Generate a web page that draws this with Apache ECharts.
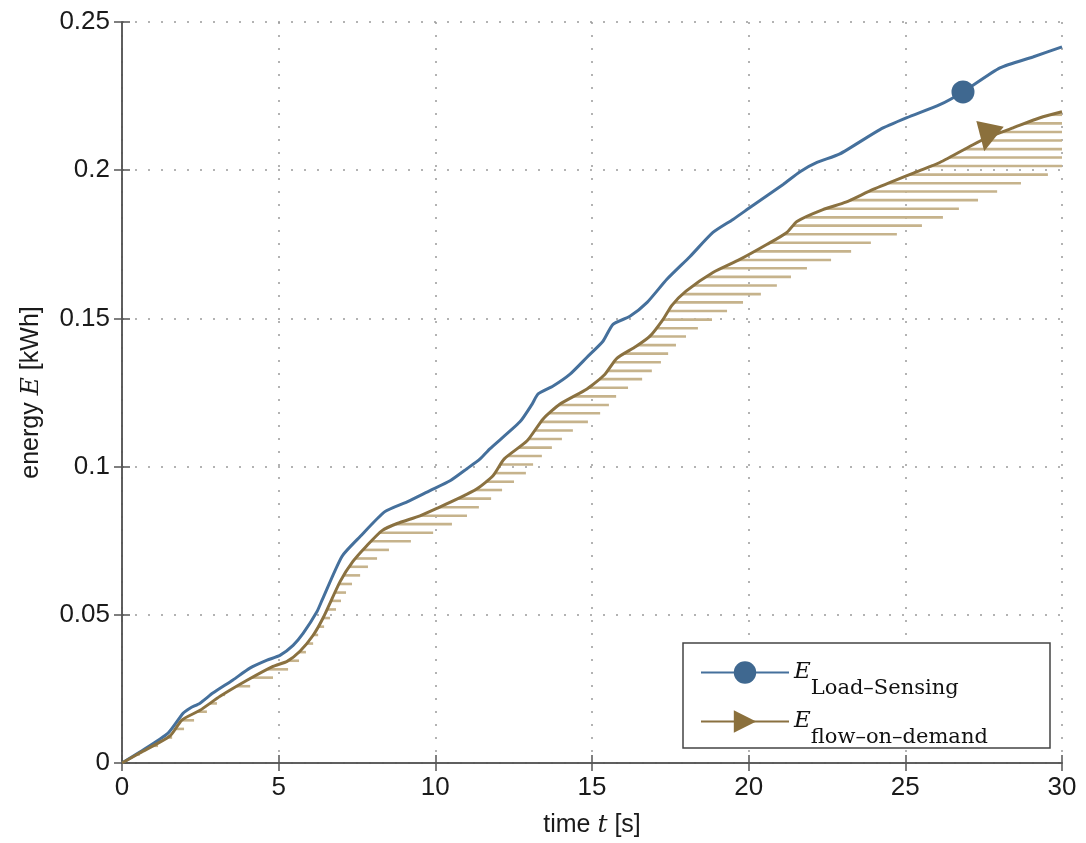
<!DOCTYPE html>
<html><head><meta charset="utf-8">
<script src="https://cdn.jsdelivr.net/npm/echarts@6/dist/echarts.min.js"></script>
<style>html,body{margin:0;padding:0;background:#fff}#c{width:1086px;height:843px}</style>
</head><body><div id="c"></div>
<script>
// ---- data ----
const xTicks = [0, 5, 10, 15, 20, 25, 30];
const yTicks = [0, 0.05, 0.1, 0.15, 0.2, 0.25];

const lsName = 'Load–Sensing';
const lsT = [0, 0.57, 1.47, 1.95, 2.17, 2.49, 2.9, 3.54, 4.08, 4.63, 5.04, 5.46, 5.78, 6.22, 6.4, 7.02, 7.6, 8.39, 9.1, 9.83, 10.47, 11.01, 11.43, 11.74, 12.7, 13.09, 13.28, 13.76, 14.3, 14.84, 15.35, 15.67, 16.21, 16.76, 17.39, 18.13, 18.86, 19.5, 20.04, 21.1, 21.64, 22.18, 22.91, 24.19, 25.05, 26.1, 26.84, 28.02, 29.07, 30];
const lsE = [0, 0.0037, 0.0101, 0.0168, 0.0185, 0.0202, 0.0236, 0.028, 0.032, 0.0347, 0.0363, 0.0397, 0.0437, 0.051, 0.0553, 0.0697, 0.0764, 0.0848, 0.0881, 0.0919, 0.0952, 0.0993, 0.1026, 0.106, 0.1151, 0.1211, 0.1245, 0.1272, 0.1312, 0.1369, 0.1423, 0.148, 0.1507, 0.1554, 0.1632, 0.1709, 0.179, 0.1834, 0.1874, 0.1952, 0.1995, 0.2026, 0.2055, 0.2137, 0.2177, 0.2221, 0.2264, 0.2345, 0.2382, 0.2416];
const lsMarkerT = 26.84;

const fodName = 'flow–on–demand';
const fodT = [0, 0.57, 1.53, 1.91, 2.49, 3.13, 3.99, 4.82, 5.27, 5.68, 6.1, 6.42, 6.96, 7.37, 7.82, 8.3, 8.78, 9.51, 10.09, 10.79, 11.33, 11.84, 12.2, 12.93, 13.44, 13.98, 14.84, 15.4, 15.8, 16.4, 16.85, 17.27, 17.55, 18.0, 18.86, 19.72, 20.59, 21.22, 21.54, 22.37, 23.1, 23.97, 25.37, 26.1, 27.16, 27.61, 28.44, 29.3, 30];
const fodE = [0, 0.0034, 0.0091, 0.0145, 0.0178, 0.0225, 0.0279, 0.0326, 0.0343, 0.0377, 0.0431, 0.049, 0.0612, 0.068, 0.0734, 0.0784, 0.0808, 0.0834, 0.0861, 0.0895, 0.0925, 0.0969, 0.1026, 0.1087, 0.1161, 0.1211, 0.1262, 0.131, 0.1366, 0.1405, 0.144, 0.1497, 0.1544, 0.1592, 0.1655, 0.1699, 0.175, 0.179, 0.1827, 0.1867, 0.1892, 0.1935, 0.1995, 0.2026, 0.2086, 0.211, 0.2143, 0.2177, 0.2197];
const fodMarkerT = 27.61;

// hatch lines under the flow-on-demand curve: level and right end
const hatchE = [0.0029, 0.0058, 0.0086, 0.0115, 0.0144, 0.0173, 0.0201, 0.0230, 0.0259, 0.0288, 0.0316, 0.0345, 0.0374, 0.0403, 0.0432, 0.0460, 0.0489, 0.0518, 0.0547, 0.0575, 0.0604, 0.0633, 0.0662, 0.0690, 0.0719, 0.0748, 0.0777, 0.0806, 0.0834, 0.0863, 0.0892, 0.0921, 0.0949, 0.0978, 0.1007, 0.1036, 0.1064, 0.1093, 0.1122, 0.1151, 0.1180, 0.1208, 0.1237, 0.1266, 0.1295, 0.1323, 0.1352, 0.1381, 0.1410, 0.1439, 0.1467, 0.1496, 0.1525, 0.1554, 0.1582, 0.1611, 0.1640, 0.1669, 0.1697, 0.1726, 0.1755, 0.1784, 0.1813, 0.1841, 0.1870, 0.1899, 0.1928, 0.1956, 0.1985, 0.2014, 0.2043, 0.2071, 0.2100, 0.2129, 0.2158, 0.2187];
const hatchEndT = [0.57, 1.15, 1.6, 1.98, 2.3, 2.71, 3.03, 3.29, 4.09, 4.82, 5.3, 5.65, 5.87, 6.1, 6.26, 6.45, 6.64, 6.83, 6.99, 7.15, 7.34, 7.6, 7.85, 8.14, 8.52, 9.22, 9.93, 10.53, 11.01, 11.39, 11.78, 12.13, 12.51, 12.89, 13.12, 13.4, 13.72, 14.04, 14.39, 14.87, 15.26, 15.54, 15.77, 16.15, 16.6, 16.91, 17.2, 17.43, 17.68, 18.0, 18.38, 18.83, 19.31, 19.82, 20.39, 20.9, 21.35, 21.86, 22.63, 23.27, 23.9, 24.73, 25.53, 26.2, 26.71, 27.32, 27.93, 28.69, 29.55, 30, 30, 30, 30, 30, 30, 30];

// ---- build ----
const BLUE = '#45709c', BLUE_M = '#3f6890';
const BROWN = '#8a7140', BROWN_M = '#8b703c';
const HATCH = '#c6b38c';

function timeAtEnergy(T, E, e) {
  for (let i = 1; i < T.length; i++) {
    if (E[i] >= e) {
      const f = (e - E[i - 1]) / (E[i] - E[i - 1]);
      return T[i - 1] + f * (T[i] - T[i - 1]);
    }
  }
  return T[T.length - 1];
}
const hatchData = hatchE.map((e, i) => [Math.min(timeAtEnergy(fodT, fodE, e), hatchEndT[i]), hatchEndT[i], e]);

const lsData = lsT.map((t, i) => t === lsMarkerT
  ? { value: [t, lsE[i]], symbolSize: 23 } : [t, lsE[i]]);
const fodData = fodT.map((t, i) => t === fodMarkerT
  ? { value: [t, fodE[i]], symbolSize: 28, symbolRotate: 168 } : [t, fodE[i]]);

const SANS = 'Liberation Sans, Arial, sans-serif';
const SERIF = 'DejaVu Serif, serif';
const TXT = '#1a1a1a';
const legendRich = {
  e: { fontFamily: SERIF, fontStyle: 'italic', fontSize: 23, color: '#111', padding: [16, 0, 16, 0] },
  s: { fontFamily: SERIF, fontSize: 21, color: '#111', padding: [32, 0, 0, 0] }
};
const axisCommon = {
  axisLine: { lineStyle: { color: '#555', width: 1.5 } },
  axisTick: { inside: true, length: 8, lineStyle: { color: '#555', width: 1.5 } }
};

const chart = echarts.init(document.getElementById('c'), null, { renderer: 'canvas' });
chart.setOption({
  animation: false,
  backgroundColor: '#fff',
  grid: { left: 122, right: 24, top: 22, bottom: 78, containLabel: false },
  xAxis: [{
    type: 'value', min: xTicks[0], max: xTicks[xTicks.length - 1], interval: xTicks[1] - xTicks[0],
    ...axisCommon,
    axisLabel: { fontFamily: SANS, fontSize: 26, color: TXT, margin: 12 },
    splitLine: { show: true, lineStyle: { color: '#9a9a9a', width: 1.5, type: [2, 11] } },
    name: '{a|time }{b|t}{a| [s]}', nameLocation: 'middle', nameGap: 50,
    nameTextStyle: { rich: { a: { fontFamily: SANS, fontSize: 25, color: TXT }, b: { fontFamily: SERIF, fontStyle: 'italic', fontSize: 25, color: TXT } } }
  }, {
    type: 'value', position: 'top', min: xTicks[0], max: xTicks[xTicks.length - 1], interval: xTicks[1] - xTicks[0],
    ...axisCommon, axisLabel: { show: false }, splitLine: { show: false }
  }],
  yAxis: [{
    type: 'value', min: yTicks[0], max: yTicks[yTicks.length - 1], interval: yTicks[1] - yTicks[0],
    ...axisCommon,
    axisLabel: { fontFamily: SANS, fontSize: 26, color: TXT, margin: 12 },
    splitLine: { show: true, lineStyle: { color: '#9a9a9a', width: 1.5, type: [2, 11] } },
    name: '{a|energy }{b|E}{a| [kWh]}', nameLocation: 'middle', nameGap: 78, nameRotate: 90,
    nameTextStyle: { rich: { a: { fontFamily: SANS, fontSize: 25, color: TXT }, b: { fontFamily: SERIF, fontStyle: 'italic', fontSize: 25, color: TXT } } }
  }, {
    type: 'value', position: 'right', min: yTicks[0], max: yTicks[yTicks.length - 1], interval: yTicks[1] - yTicks[0],
    ...axisCommon, axisLabel: { show: false }, splitLine: { show: false }
  }],
  legend: {
    orient: 'vertical', left: 700, top: 661, padding: 0, itemGap: 11,
    itemWidth: 88, itemHeight: 28, selectedMode: false, z: 10,
    data: [lsName, fodName],
    formatter: n => '{e|E}{s|' + n + '}',
    textStyle: { rich: legendRich }
  },
  graphic: [{
    type: 'rect', z: 5, silent: true,
    shape: { x: 683, y: 643, width: 367, height: 105 },
    style: { fill: '#fff', stroke: '#444', lineWidth: 1.5 }
  }],
  series: [{
    type: 'custom', name: 'hatch', silent: true, clip: true, z: 1,
    data: hatchData, encode: { x: [0, 1], y: 2 },
    renderItem: (params, api) => {
      const p1 = api.coord([api.value(0), api.value(2)]);
      const p2 = api.coord([api.value(1), api.value(2)]);
      return { type: 'line', shape: { x1: p1[0], y1: p1[1], x2: p2[0], y2: p2[1] }, style: { stroke: HATCH, lineWidth: 2.6 } };
    }
  }, {
    type: 'line', name: lsName, data: lsData, z: 3,
    symbol: 'circle', symbolSize: 0, showAllSymbol: true, smooth: 0.2,
    lineStyle: { color: BLUE, width: 3 }, itemStyle: { color: BLUE_M }
  }, {
    type: 'line', name: fodName, data: fodData, z: 3,
    symbol: 'triangle', symbolSize: 0, symbolRotate: -90, showAllSymbol: true, smooth: 0.2,
    lineStyle: { color: BROWN, width: 3 }, itemStyle: { color: BROWN_M }
  }]
});
</script></body></html>
